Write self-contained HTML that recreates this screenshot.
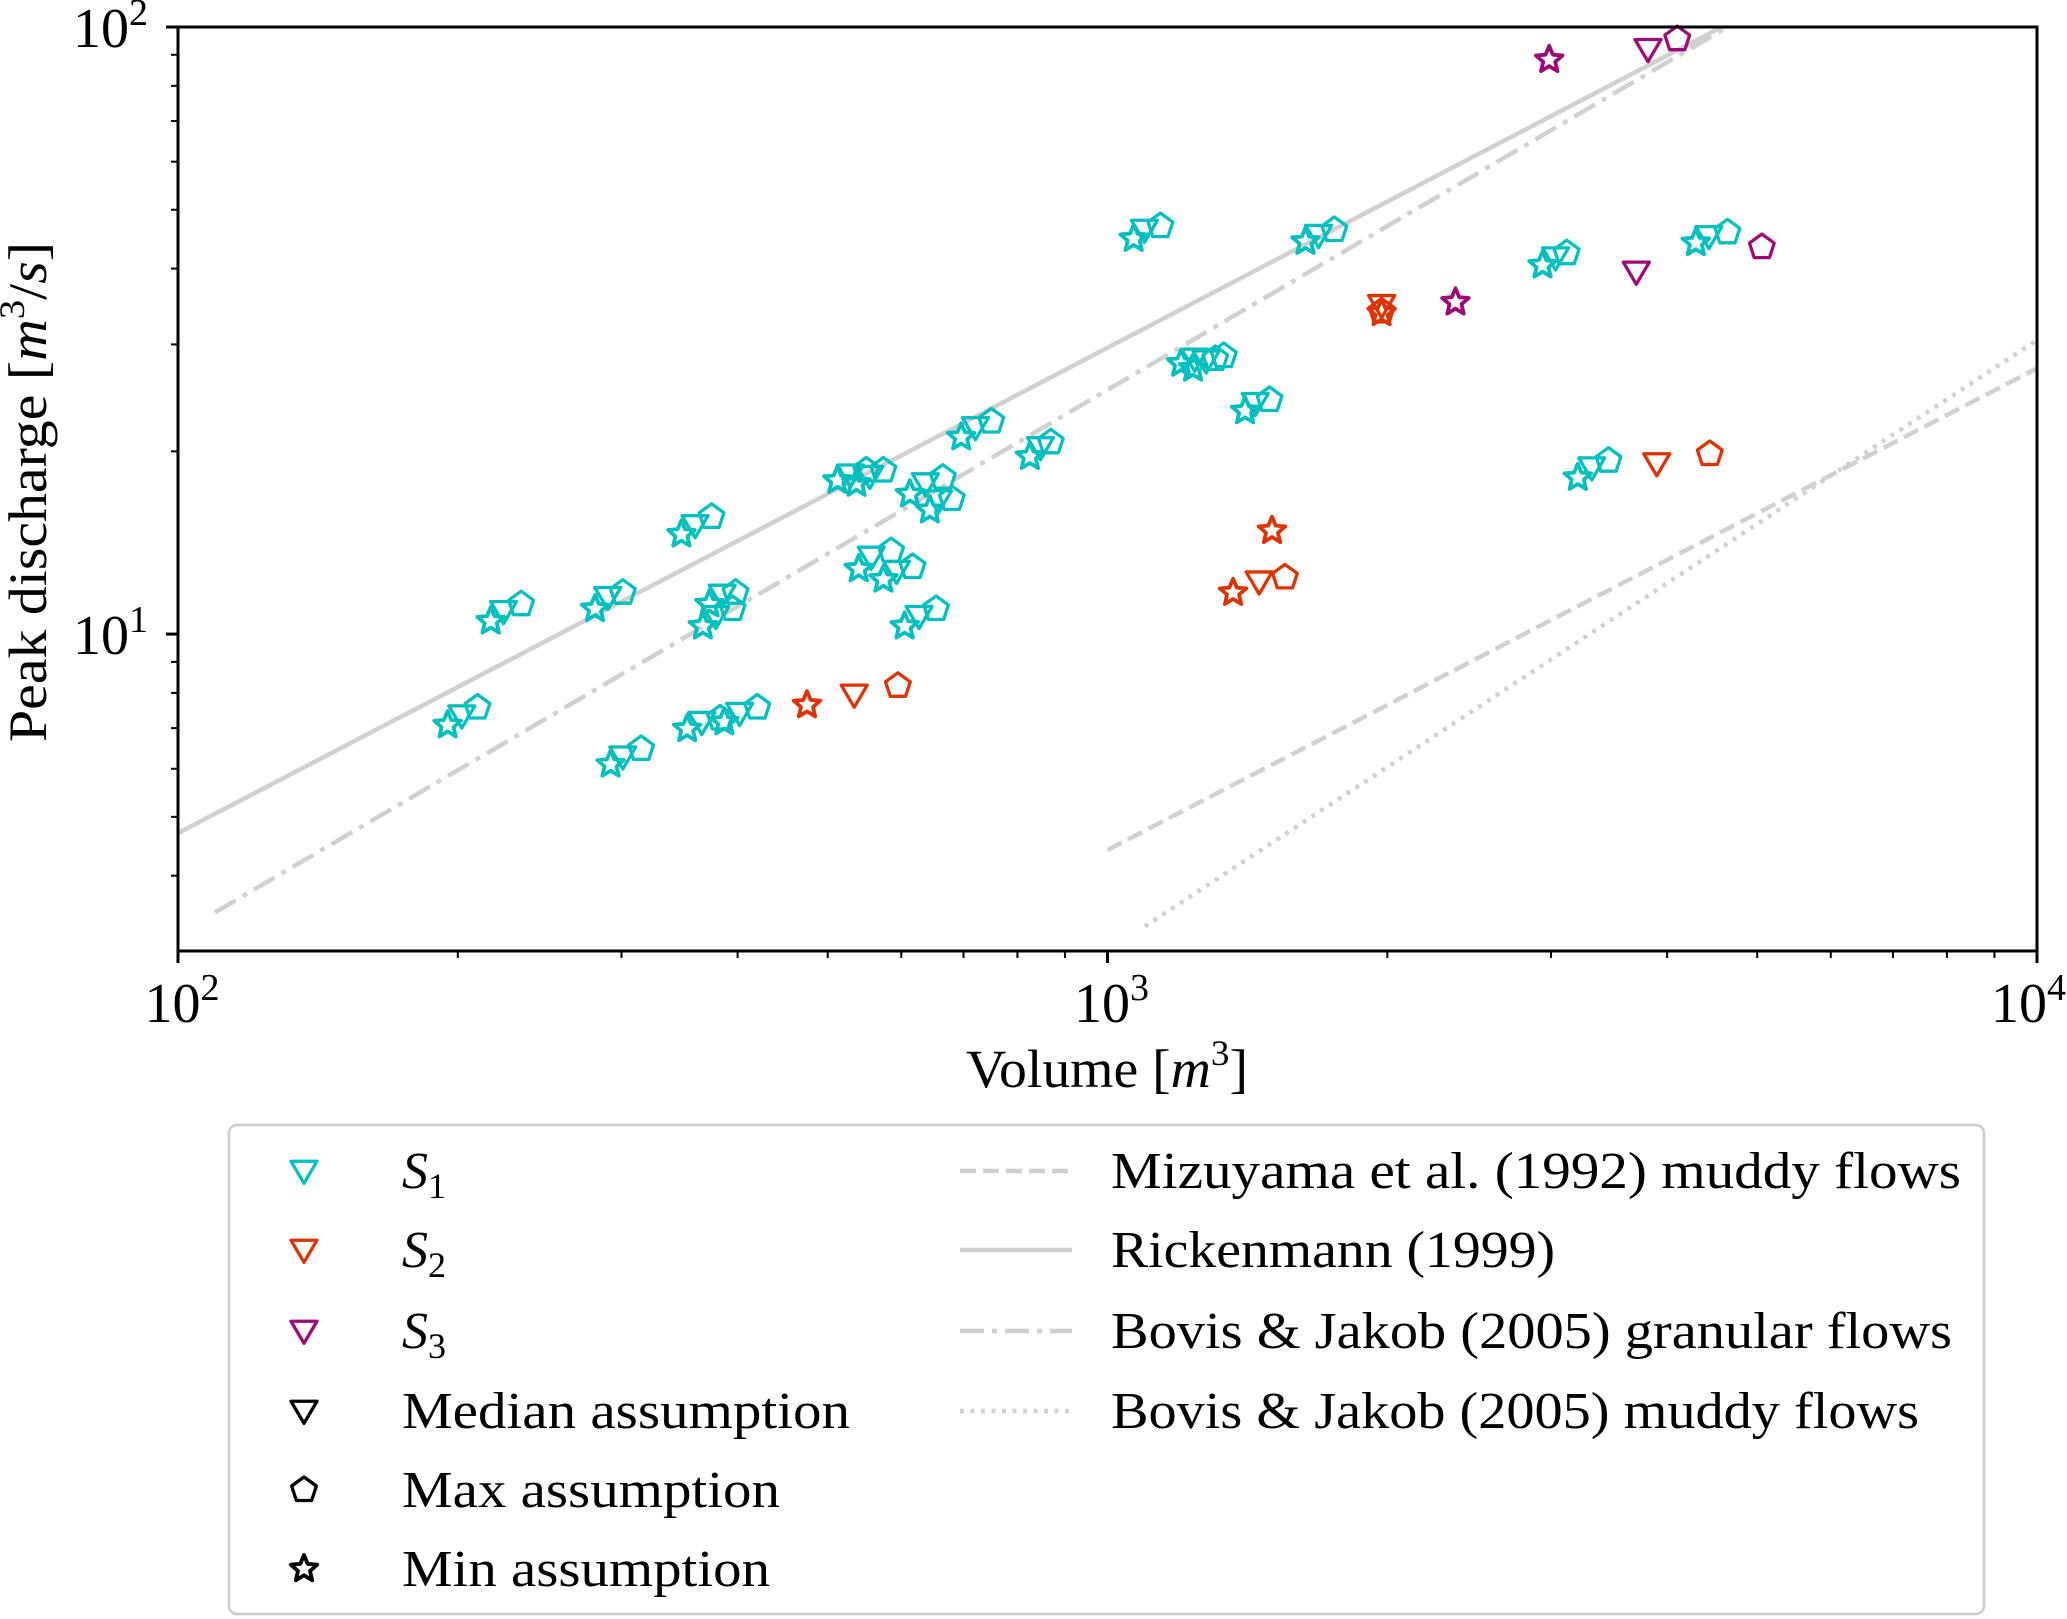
<!DOCTYPE html>
<html><head><meta charset="utf-8">
<style>
html,body{margin:0;padding:0;background:#fff;}
svg{display:block;font-family:"Liberation Serif","DejaVu Serif",serif;}
</style></head>
<body>
<svg id="chart" width="2067" height="1619" viewBox="0 0 2067 1619" xmlns="http://www.w3.org/2000/svg">
<g id="lines"></g>
<g id="marks"></g>
<rect x="178" y="27" width="1859" height="924" fill="none" stroke="#000" stroke-width="3"/>
<g id="ticks"></g>
<text x="1107" y="1087" font-size="54" text-anchor="middle" textLength="282" lengthAdjust="spacingAndGlyphs">Volume [<tspan font-style="italic">m</tspan><tspan font-size="36" dy="-22">3</tspan><tspan dy="22">]</tspan></text>
<text transform="translate(46,492) rotate(-90)" font-size="54" text-anchor="middle" textLength="500" lengthAdjust="spacingAndGlyphs">Peak discharge [<tspan font-style="italic">m</tspan><tspan font-size="36" dy="-22">3</tspan><tspan dy="22">/</tspan><tspan font-style="italic">s</tspan>]</text>
<g id="legend">
<rect x="229" y="1125" width="1755" height="489" rx="8" fill="#fff" stroke="#ccc" stroke-width="2.5"/>
</g>
</svg>
<script>
// ---- data ----
const s1MedV=[202,224,290,301,360,366,402,379,385,529,555,557,593,627,637,658,721,847,1096,1241,1277,1442,1687,3034,3319,4436];
const s1MedQ=[7.34,10.9,11.5,6.28,15.1,7.16,7.41,10.7,11.6,18.3,18.2,13.4,12.7,10.7,17.7,16.6,21.9,20.3,46.3,28.4,28.2,24.0,45.4,41.7,18.8,45.2];
const s1MaxV=[210,234,301,315,375,383,420,395,398,550,574,585,617,654,665,680,750,869,1140,1334,1306,1494,1754,3119,3459,4645];
const s1MaxQ=[7.57,11.2,11.7,6.47,15.6,7.26,7.57,11.0,11.7,18.6,18.6,13.7,12.9,11.0,18.1,16.7,22.4,20.7,47.0,28.7,28.4,24.3,46.3,42.4,19.3,45.9];
const s1MinV=[195,217,281,292,348,353,387,367,373,512,537,540,574,605,613,644,696,825,1067,1200,1236,1406,1633,2938,3206,4295];
const s1MinQ=[7.08,10.5,11.0,6.10,14.6,6.98,7.16,10.3,11.2,17.9,17.7,12.8,12.3,10.3,17.0,16.0,21.1,19.6,44.8,27.9,27.4,23.3,44.3,40.5,18.1,44.1];
const s2MedV=[534,1456,1972,3899];
const s2MedQ=[7.94,12.2,34.8,19.1];
const s2MaxV=[595,1552,1972,4446];
const s2MaxQ=[8.22,12.4,34.0,19.8];
const s2MinV=[475,1365,1503,1972];
const s2MinQ=[7.64,11.7,14.8,33.8];
const s3MedV=[3815,3706];
const s3MedQ=[91.9,39.5];
const s3MaxV=[4102,5058];
const s3MaxQ=[95.5,43.4];
const s3MinV=[2987,2368];
const s3MinQ=[88.3,35.2];
// empirical relations: [V start, Q start, V end, Q end]
const mizuyamaLine=[1000,4.41,10000,27.4];
const rickenmannLine=[100,4.70,4580,100];
const bovisGranLine=[109.6,3.48,4645,100];
const bovisMudLine=[1097,3.30,10000,30.5];
const xTickVals=[100,1000,10000];
const xTickExp=["2","3","4"];
const yTickVals=[10,100];
const yTickExp=["1","2"];

// ---- axes ----
const X0=178,X1=2037,Y0=27,Y1=951;
const xmin=2,xmax=4,ymin=Math.log10(3.006),ymax=2;
const sx=v=>X0+(Math.log10(v)-xmin)/(xmax-xmin)*(X1-X0);
const sy=q=>Y1-(Math.log10(q)-ymin)/(ymax-ymin)*(Y1-Y0);
const NS="http://www.w3.org/2000/svg";
function mk(tag,attrs,parent){const e=document.createElementNS(NS,tag);for(const k in attrs)e.setAttribute(k,attrs[k]);parent.appendChild(e);return e;}

const C1="#00bfbf",C2="#dd3300",C3="#9e0a74";

function markerPath(type,cx,cy,r){
  if(type==="tri"){return `M${cx-r},${cy-r*0.75} L${cx+r},${cy-r*0.75} L${cx},${cy+r*0.95} Z`;}
  if(type==="pent"){let p="";for(let i=0;i<5;i++){const a=-Math.PI/2+i*2*Math.PI/5;p+=(i?"L":"M")+(cx+r*Math.cos(a)).toFixed(1)+","+(cy+r*Math.sin(a)).toFixed(1);}return p+"Z";}
  let p="";for(let i=0;i<10;i++){const a=-Math.PI/2+i*Math.PI/5;const rr=i%2?r*0.45:r;p+=(i?"L":"M")+(cx+rr*Math.cos(a)).toFixed(1)+","+(cy+rr*Math.sin(a)).toFixed(1);}return p+"Z";
}

// ---- lines ----
const lg=document.getElementById("lines");
function drawLine(arr,dash,name){
  const l=mk("line",{x1:sx(arr[0]),y1:sy(arr[1]),x2:sx(arr[2]),y2:sy(arr[3]),stroke:"#d0d0d0","stroke-width":4.5,"stroke-dasharray":dash},lg);
  
  
}
drawLine(mizuyamaLine,"16,7","mizuyama-line");
drawLine(rickenmannLine,"none","rickenmann-line");
drawLine(bovisGranLine,"24,8,5,8","bovis-granular-line");
drawLine(bovisMudLine,"4,6.5","bovis-muddy-line");
const cp=mk("clipPath",{id:"clip"},document.getElementById("chart"));
mk("rect",{x:X0,y:Y0,width:X1-X0,height:Y1-Y0},cp);
lg.setAttribute("clip-path","url(#clip)");

// ---- markers ----
const mg=document.getElementById("marks");
function drawSeries(V,Q,type,color,name){
  for(let i=0;i<V.length;i++){
    const r=type==="star"?14:13;
    const p=mk("path",{d:markerPath(type,sx(V[i]),sy(Q[i]),r),fill:"none",stroke:color,"stroke-width":type==="star"?3.8:3.3,"stroke-linejoin":"round"},mg);
    
    
  }
}
drawSeries(s1MinV,s1MinQ,"star",C1,"s1-min-point");
drawSeries(s1MedV,s1MedQ,"tri",C1,"s1-median-point");
drawSeries(s1MaxV,s1MaxQ,"pent",C1,"s1-max-point");
drawSeries(s2MinV,s2MinQ,"star",C2,"s2-min-point");
drawSeries(s2MedV,s2MedQ,"tri",C2,"s2-median-point");
drawSeries(s2MaxV,s2MaxQ,"pent",C2,"s2-max-point");
drawSeries(s3MinV,s3MinQ,"star",C3,"s3-min-point");
drawSeries(s3MedV,s3MedQ,"tri",C3,"s3-median-point");
drawSeries(s3MaxV,s3MaxQ,"pent",C3,"s3-max-point");

// ---- ticks ----
const tg=document.getElementById("ticks");
for(let d=2;d<4;d++){for(let m=1;m<10;m++){const v=m*Math.pow(10,d);const x=sx(v);
  const t=mk("line",{x1:x,y1:Y1,x2:x,y2:Y1+(m===1?12:7),stroke:"#000","stroke-width":m===1?3:2},tg);
  
  }}
mk("line",{x1:X1,y1:Y1,x2:X1,y2:Y1+12,stroke:"#000","stroke-width":3},tg);
for(let d=0;d<2;d++){for(let m=1;m<10;m++){const q=m*Math.pow(10,d);if(q<3.006)continue;const y=sy(q);
  const t=mk("line",{x1:X0-(m===1?12:7),y1:y,x2:X0,y2:y,stroke:"#000","stroke-width":m===1?3:2},tg);
  
  }}
mk("line",{x1:X0-12,y1:Y0,x2:X0,y2:Y0,stroke:"#000","stroke-width":3},tg);
function tickLabel(x,y,exp,anchor,name){
  const t=mk("text",{x:x,y:y,"font-size":56,"text-anchor":anchor},tg);
  
  
  t.appendChild(document.createTextNode("10"));
  const s=mk("tspan",{"font-size":38,dy:-22},t);s.textContent=exp;
}
xTickVals.forEach((v,i)=>{
  const x=sx(v)+4;
  if(x+38>2066) tickLabel(2066,1022,xTickExp[i],"end","x-tick-label");
  else tickLabel(x,1022,xTickExp[i],"middle","x-tick-label");
});
yTickVals.forEach((q,i)=>tickLabel(148,sy(q)+20,yTickExp[i],"end","y-tick-label"));

// ---- legend ----
const leg=document.getElementById("legend");
const rowsY=[1171,1250,1331,1411,1490,1569];
const left=[["tri",C1,"S","1",0],["tri",C2,"S","2",0],["tri",C3,"S","3",0],["tri","#000","Median assumption","",448],["pent","#000","Max assumption","",378],["star","#000","Min assumption","",368]];
left.forEach((e,i)=>{
  const y=rowsY[i];
  const p=mk("path",{d:markerPath(e[0],304,y,e[0]==="star"?14:13),fill:"none",stroke:e[1],"stroke-width":e[0]==="star"?3.8:3.3,"stroke-linejoin":"round"},leg);
  
  
  const t=mk("text",{x:402,y:y+17,"font-size":52},leg);
  
  
  if(e[3]){const a=mk("tspan",{"font-style":"italic"},t);a.textContent=e[2];const b=mk("tspan",{"font-size":36,dy:10},t);b.textContent=e[3];}
  else {t.textContent=e[2];t.setAttribute("textLength",e[4]);t.setAttribute("lengthAdjust","spacingAndGlyphs");}
});
const right=[["16,7","Mizuyama et al. (1992) muddy flows",850],["none","Rickenmann (1999)",444],["24,8,5,8","Bovis & Jakob (2005) granular flows",841],["4,6.5","Bovis & Jakob (2005) muddy flows",808]];
right.forEach((e,i)=>{
  const y=rowsY[i];
  const l=mk("line",{x1:960,y1:y,x2:1072,y2:y,stroke:"#d0d0d0","stroke-width":4.5,"stroke-dasharray":e[0]},leg);
  
  
  const t=mk("text",{x:1111,y:y+17,"font-size":52,textLength:e[2],lengthAdjust:"spacingAndGlyphs"},leg);
  
  
  t.textContent=e[1];
});
</script>
</body></html>
